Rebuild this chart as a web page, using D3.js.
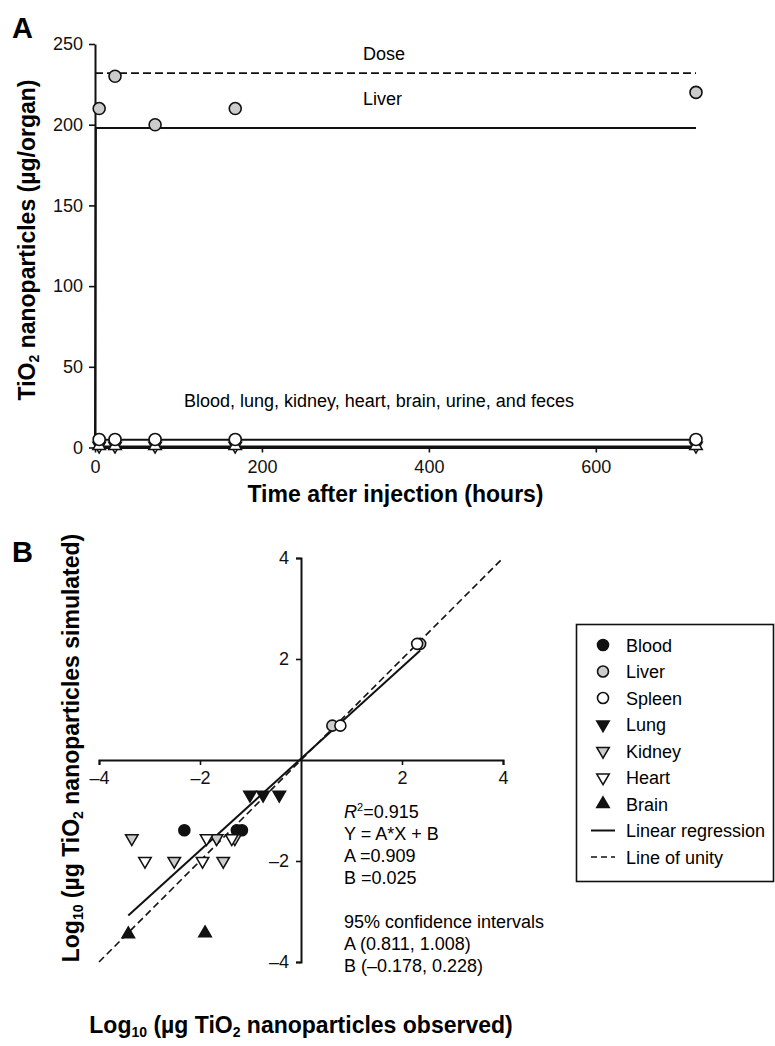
<!DOCTYPE html>
<html>
<head>
<meta charset="utf-8">
<script src="https://cdn.jsdelivr.net/npm/d3@7"></script>
<style>
  body { margin: 0; background: #fff; }
  svg { font-family: Arial, "Liberation Sans", sans-serif; }
</style>
</head>
<body>
<div id="chart"></div>
<script>
// ---- Panel A: TiO2 amount per organ over time ----
const timePoints = [5, 24, 72, 168, 720]
const liverObserved = [210, 230, 200, 210, 220]
const spleenObserved = [5, 5, 5, 5, 5]
const otherObserved = [1, 1, 1, 1, 1]
const doseLine = [[0, 232], [720, 232]]
const liverModel = [[0, 0], [1, 198], [720, 198]]
const spleenModel = [[0, 0], [1, 4.8], [720, 4.8]]
const otherModel = [[0, 0.6], [720, 0.6]]
const timeTicks = [0, 200, 400, 600]
const amountTicks = [0, 50, 100, 150, 200, 250]

// ---- Panel B: observed vs simulated, log10 ----
const bloodPts = [[-2.31, -1.39], [-1.27, -1.39], [-1.17, -1.39]]
const liverPts = [[0.62, 0.68], [2.36, 2.3]]
const spleenPts = [[0.78, 0.68], [2.3, 2.3]]
const lungPts = [[-1.01, -0.69], [-0.75, -0.69], [-0.43, -0.69]]
const kidneyPts = [[-3.35, -1.55], [-1.67, -1.55], [-1.31, -1.55], [-2.51, -2.0], [-1.54, -2.0]]
const heartPts = [[-1.87, -1.55], [-1.37, -1.55], [-3.09, -2.0], [-1.95, -2.0]]
const brainPts = [[-3.42, -3.45], [-1.9, -3.43]]
const regressionLine = [[-3.42, -3.08], [2.36, 2.17]]
const unityLine = [[-4, -4], [4, 4]]
const logTicks = [-4, -2, 2, 4]
const legendNames = ['Blood', 'Liver', 'Spleen', 'Lung', 'Kidney', 'Heart', 'Brain', 'Linear regression', 'Line of unity']
const statLines = ['=0.915', 'Y = A*X + B', 'A =0.909', 'B =0.025', '', '95% confidence intervals', 'A (0.811, 1.008)', 'B (\u20130.178, 0.228)']

const width = 775
const height = 1046
const ink = '#111'

const svg = d3.select('#chart')
    .append('svg')
    .attr('width', width)
    .attr('height', height)

// marker helpers
const circle = (g, pts, x, y, r, fill) => g.selectAll(null)
    .data(pts)
    .enter()
    .append('circle')
    .attr('cx', d => x(d[0]))
    .attr('cy', d => y(d[1]))
    .attr('r', r)
    .style('fill', fill)
    .style('stroke', ink)
    .style('stroke-width', 1.6)

const tri = d3.symbol().type(d3.symbolTriangle).size(68)
const triangle = (g, pts, x, y, fill, down) => g.selectAll(null)
    .data(pts)
    .enter()
    .append('path')
    .attr('d', tri)
    .attr('transform', d => `translate(${x(d[0])},${y(d[1])})` + (down ? ' rotate(180)' : ''))
    .style('fill', fill)
    .style('stroke', ink)
    .style('stroke-width', 1.5)

const styleAxis = g => {
    g.select('.domain').style('stroke', ink).style('stroke-width', 2)
    g.selectAll('.tick line').style('stroke', ink).style('stroke-width', 1.6)
    g.selectAll('.tick text').style('font-size', '18px').style('fill', ink)
}

// bold title with subscripts: parts alternate normal / subscript
const title = (t, parts) => parts.forEach((p, i) => {
    const s = t.append('tspan').text(p)
    if (i % 2) s.attr('dy', 4).style('font-size', '14px')
    else if (i > 0) s.attr('dy', -4)
})

// ================= Panel A =================
const xA = d3.scaleLinear().domain([0, 720]).range([95, 696])
const yA = d3.scaleLinear().domain([0, 250]).range([447.5, 44])
const lineA = d3.line().x(d => xA(d[0])).y(d => yA(d[1]))

const gA = svg.append('g')

gA.append('g')
    .attr('transform', `translate(0,${yA(0)})`)
    .call(d3.axisBottom(xA).tickValues(timeTicks).tickSize(5).tickPadding(8).tickSizeOuter(0))
    .call(styleAxis)

gA.append('g')
    .attr('transform', `translate(${xA(0)},0)`)
    .call(d3.axisLeft(yA).tickValues(amountTicks).tickSize(6).tickPadding(6).tickSizeOuter(0))
    .call(styleAxis)

gA.append('path').attr('d', lineA(doseLine))
    .style('fill', 'none').style('stroke', ink).style('stroke-width', 1.8).style('stroke-dasharray', '8,4')
;[liverModel, spleenModel, otherModel].forEach(m => gA.append('path').attr('d', lineA(m))
    .style('fill', 'none').style('stroke', ink).style('stroke-width', 2))

const asPts = vals => timePoints.map((t, i) => [t, vals[i]])
triangle(gA, asPts(otherObserved), xA, yA, '#fff', true)
triangle(gA, asPts(otherObserved), xA, yA, '#fff', false)
circle(gA, asPts(spleenObserved), xA, yA, 6, '#fff')
circle(gA, asPts(liverObserved), xA, yA, 6, '#ccc')

gA.append('text').attr('x', 363).attr('y', 60).style('font-size', '18px').text('Dose')
gA.append('text').attr('x', 363).attr('y', 105).style('font-size', '18px').text('Liver')
gA.append('text').attr('x', 184).attr('y', 407).style('font-size', '18px')
    .text('Blood, lung, kidney, heart, brain, urine, and feces')

gA.append('text').attr('x', xA(0) + (xA(720) - xA(0)) / 2).attr('y', 502)
    .attr('text-anchor', 'middle').style('font-size', '23px').style('font-weight', 'bold')
    .text('Time after injection (hours)')

gA.append('text')
    .attr('transform', 'translate(35,240) rotate(-90)')
    .attr('text-anchor', 'middle').style('font-size', '23px').style('font-weight', 'bold')
    .call(t => title(t, ['TiO', '2', ' nanoparticles (\u00b5g/organ)']))

svg.append('text').attr('x', 12).attr('y', 38).style('font-size', '29px').style('font-weight', 'bold').text('A')
svg.append('text').attr('x', 12).attr('y', 562).style('font-size', '29px').style('font-weight', 'bold').text('B')

// ================= Panel B =================
const xB = d3.scaleLinear().domain([-4, 4]).range([99, 503])
const yB = d3.scaleLinear().domain([-4, 4]).range([962, 558])
const lineB = d3.line().x(d => xB(d[0])).y(d => yB(d[1]))
const fmt = d => d < 0 ? '\u2013' + Math.abs(d) : d

const gB = svg.append('g')

gB.append('g')
    .attr('transform', `translate(0,${yB(0)})`)
    .call(d3.axisBottom(xB).tickValues(logTicks).tickFormat(fmt).tickSize(5).tickPadding(6).tickSizeOuter(5))
    .call(styleAxis)

gB.append('g')
    .attr('transform', `translate(${xB(0)},0)`)
    .call(d3.axisLeft(yB).tickValues(logTicks).tickFormat(fmt).tickSize(5).tickPadding(7).tickSizeOuter(5))
    .call(styleAxis)

gB.append('path').attr('d', lineB(unityLine))
    .style('fill', 'none').style('stroke', ink).style('stroke-width', 1.6).style('stroke-dasharray', '7,4')
gB.append('path').attr('d', lineB(regressionLine))
    .style('fill', 'none').style('stroke', ink).style('stroke-width', 2)

circle(gB, bloodPts, xB, yB, 5.5, ink)
circle(gB, liverPts, xB, yB, 5.5, '#ccc')
circle(gB, spleenPts, xB, yB, 5.5, '#fff')
triangle(gB, lungPts, xB, yB, ink, true)
triangle(gB, kidneyPts, xB, yB, '#ccc', true)
triangle(gB, heartPts, xB, yB, '#fff', true)
triangle(gB, brainPts, xB, yB, ink, false)

// regression statistics
statLines.forEach((s, i) => {
    if (!s) return
    const t = gB.append('text').attr('x', 344).attr('y', 818 + i * 22).style('font-size', '18px')
    if (i === 0) {
        t.append('tspan').style('font-style', 'italic').text('R')
        t.append('tspan').attr('dy', -7).style('font-size', '11px').text('2')
        t.append('tspan').attr('dy', 7).text(s)
    } else t.text(s)
})

// legend
const lg = gB.append('g')
lg.append('rect').attr('x', 576.5).attr('y', 624.5).attr('width', 197).attr('height', 257)
    .style('fill', '#fff').style('stroke', ink).style('stroke-width', 1.6)
const rowY = i => 645 + i * 26.5
legendNames.forEach((name, i) => {
    lg.append('text').attr('x', 626).attr('y', rowY(i) + 6.5).style('font-size', '18px').text(name)
})
const lx = () => 603
const ly = i => () => rowY(i)
circle(lg, [[0, 0]], lx, ly(0), 5.5, ink)
circle(lg, [[0, 0]], lx, ly(1), 5.5, '#ccc')
circle(lg, [[0, 0]], lx, ly(2), 5.5, '#fff')
triangle(lg, [[0, 0]], lx, ly(3), ink, true)
triangle(lg, [[0, 0]], lx, ly(4), '#ccc', true)
triangle(lg, [[0, 0]], lx, ly(5), '#fff', true)
triangle(lg, [[0, 0]], lx, ly(6), ink, false)
lg.append('line').attr('x1', 591).attr('x2', 615).attr('y1', rowY(7)).attr('y2', rowY(7))
    .style('stroke', ink).style('stroke-width', 2)
lg.append('line').attr('x1', 591).attr('x2', 615).attr('y1', rowY(8)).attr('y2', rowY(8))
    .style('stroke', ink).style('stroke-width', 1.6).style('stroke-dasharray', '6,4')

gB.append('text').attr('x', xB(0)).attr('y', 1033)
    .attr('text-anchor', 'middle').style('font-size', '23px').style('font-weight', 'bold')
    .call(t => title(t, ['Log', '10', ' (\u00b5g TiO', '2', ' nanoparticles observed)']))

gB.append('text')
    .attr('transform', 'translate(79,748) rotate(-90)')
    .attr('text-anchor', 'middle').style('font-size', '23px').style('font-weight', 'bold')
    .call(t => title(t, ['Log', '10', ' (\u00b5g TiO', '2', ' nanoparticles simulated)']))
</script>
</body>
</html>
